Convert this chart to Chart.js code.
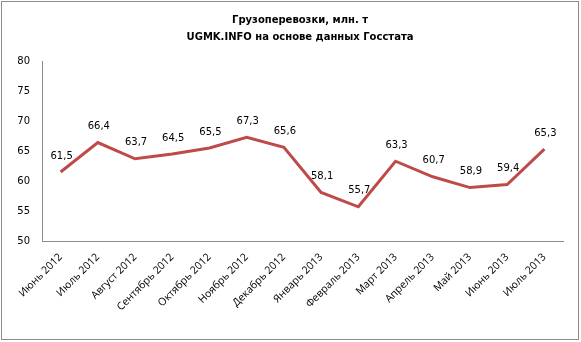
<!DOCTYPE html>
<html>
<head>
<meta charset="utf-8">
<script src="https://cdn.jsdelivr.net/npm/chart.js"></script>
<style>
  body { margin: 0; background: #fff; }
  #wrap { width: 581px; height: 342px; }
</style>
</head>
<body>
<div id="wrap"><canvas id="grafik"></canvas></div>
<script>
const titulo = ["Грузоперевозки, млн. т", "UGMK.INFO на основе данных Госстата"];
const meses = ["Июнь 2012", "Июль 2012", "Август 2012", "Сентябрь 2012", "Октябрь 2012",
  "Ноябрь 2012", "Декабрь 2012", "Январь 2013", "Февраль 2013", "Март 2013",
  "Апрель 2013", "Май 2013", "Июнь 2013", "Июль 2013"];
const valores = [61.5, 66.4, 63.7, 64.5, 65.5, 67.3, 65.6, 58.1, 55.7, 63.3, 60.7, 58.9, 59.4, 65.3];
const ejeY = { min: 50, max: 80, paso: 5 };

// marco gris y titulo
const marco = {
  id: "marco",
  afterDraw(chart) {
    const c = chart.ctx;
    c.save();
    c.strokeStyle = "#8c8c8c";
    c.lineWidth = 1;
    c.strokeRect(1.5, 1.5, chart.width - 4, chart.height - 4);
    c.fillStyle = "#000";
    c.textAlign = "center";
    c.textBaseline = "middle";
    c.font = "bold 10px 'DejaVu Sans'";
    c.fillText(titulo[0], 300, 20);
    c.fillText(titulo[1], 300, 37);
    c.restore();
  }
};

// etiquetas de valores
const etiquetas = {
  id: "etiquetas",
  afterDatasetsDraw(chart) {
    const c = chart.ctx;
    const meta = chart.getDatasetMeta(0);
    c.save();
    c.fillStyle = "#000";
    c.textAlign = "center";
    c.textBaseline = "middle";
    c.font = "10px 'DejaVu Sans'";
    meta.data.forEach((p, i) => {
      const txt = valores[i].toFixed(1).replace(".", ",");
      c.fillText(txt, p.x + 1, p.y - 16);
    });
    c.restore();
  }
};

new Chart(document.getElementById("grafik"), {
  type: "line",
  data: {
    labels: meses,
    datasets: [{
      data: valores,
      borderColor: "#BE4B48",
      borderWidth: 3,
      pointRadius: 0,
      tension: 0,
    }],
  },
  options: {
    responsive: true,
    maintainAspectRatio: false,
    animation: false,
    layout: { padding: { left: 2, right: 18, top: 61, bottom: 3 } },
    plugins: { legend: { display: false }, tooltip: { enabled: false } },
    scales: {
      x: {
        offset: true,
        grid: { display: false, offset: true },
        border: { display: true, color: "#8c8c8c" },
        ticks: {
          maxRotation: 45, minRotation: 45, autoSkip: false,
          color: "#000", font: { family: "'Open Sans'", size: 10.5 }, padding: 2,
        },
        afterFit: (s) => { s.height = 98; },
      },
      y: {
        min: ejeY.min, max: ejeY.max,
        grid: { display: false },
        border: { display: true, color: "#8c8c8c" },
        ticks: {
          stepSize: ejeY.paso, color: "#000",
          font: { family: "'DejaVu Sans'", size: 10 }, padding: 4,
        },
        afterFit: (s) => { s.width = 40; },
      },
    },
  },
  plugins: [marco, etiquetas],
});
</script>
</body>
</html>
